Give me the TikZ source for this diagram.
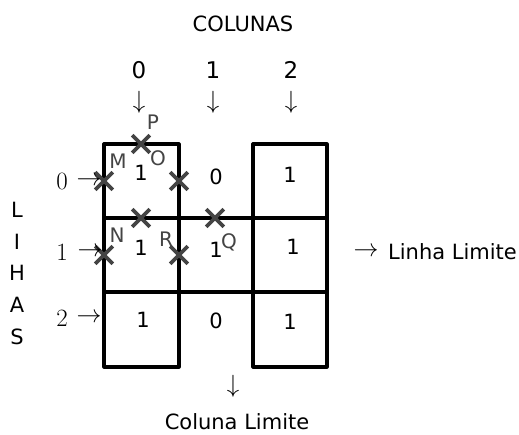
\documentclass[tikz,border=0pt]{standalone}
\usepackage{fontspec}
\setmainfont{DejaVu Sans}
\usetikzlibrary{shapes.misc}
\definecolor{mk}{HTML}{444444}
\tikzset{
  grid/.style={line width=3.2pt, line cap=round, line join=round},
  xmark/.style={cross out, draw=mk, line width=3.6pt, minimum size=14pt, inner sep=0pt},
  lbl/.style={text=mk, font=\fontsize{20}{20}\selectfont, inner sep=0pt},
  val/.style={font=\fontsize{21}{21}\selectfont, inner sep=0pt},
  txt/.style={font=\fontsize{21}{21}\selectfont, inner sep=0pt},
  arr/.style={font=\fontsize{25}{25}\selectfont, inner sep=0pt},
  num/.style={font=\fontsize{25}{25}\selectfont, inner sep=0pt},
  cnum/.style={font=\fontsize{23}{23}\selectfont, inner sep=0pt}
}
\begin{document}
\begin{tikzpicture}[x=1pt,y=-1pt]
\useasboundingbox (0,0) rectangle (519,434);
% grid
\draw[grid] (179,144) -- (104,144) -- (104,367) -- (179,367) -- (179,144);
\draw[grid] (253,367) -- (253,144) -- (327,144) -- (327,367) -- (253,367);
\draw[grid] (104,218) -- (327,218);
\draw[grid] (104,292) -- (327,292);
% cell values
\node[val] (c00) at (141,173) {1};
\node[val] (c01) at (216,177) {0};
\node[val] (c02) at (290,175) {1};
\node[val] (c10) at (141,248) {1};
\node[val] (c11) at (216,250) {1};
\node[val] (c12) at (293,247) {1};
\node[val] (c20) at (143,320) {1};
\node[val] (c21) at (216,321) {0};
\node[val] (c22) at (290,322) {1};
% crosses
\node[xmark] (xp) at (141,144) {};
\node[xmark] (xm) at (104,181) {};
\node[xmark] (xo) at (179,181) {};
\node[xmark] (xa) at (141,218) {};
\node[xmark] (xq) at (215,218) {};
\node[xmark] (xn) at (104,255) {};
\node[xmark] (xr) at (179,255) {};
% letters
\node[lbl] (lp) at (153,122) {P};
\node[lbl] (lm) at (118,161) {M};
\node[lbl] (lo) at (158,158) {O};
\node[lbl] (ln) at (117,235) {N};
\node[lbl] (lr) at (166,239) {R};
\node[lbl] (lq) at (229,242) {Q};
% top
\node[txt] (col) at (243,24) {COLUNAS};
\node[cnum] (n0) at (139,70) {0};
\node[cnum] (n1) at (213,70) {1};
\node[cnum] (n2) at (291,70) {2};
\node[arr] (d0) at (139,102) {$\downarrow$};
\node[arr] (d1) at (213,102) {$\downarrow$};
\node[arr] (d2) at (291,102) {$\downarrow$};
% left
\node[num] (r0) at (62,181) {$0$};
\node[num] (r1) at (62,252) {$1$};
\node[num] (r2) at (62,318) {$2$};
\node[arr] (a0) at (89,181) {$\rightarrow$};
\node[arr] (a1) at (90,252) {$\rightarrow$};
\node[arr] (a2) at (89,318) {$\rightarrow$};
\node[txt] (L1) at (17,210) {L};
\node[txt] (L2) at (17,242) {I};
\node[txt] (L3) at (17,273) {H};
\node[txt] (L4) at (17,305) {A};
\node[txt] (L5) at (17,337) {S};
% right
\node[arr] (ar) at (366,252) {$\rightarrow$};
\node[txt,anchor=west] (ll) at (388,252) {Linha Limite};
% bottom
\node[arr] (ab) at (233,386) {$\downarrow$};
\node[txt] (cl) at (237,422) {Coluna Limite};
\end{tikzpicture}
\end{document}
